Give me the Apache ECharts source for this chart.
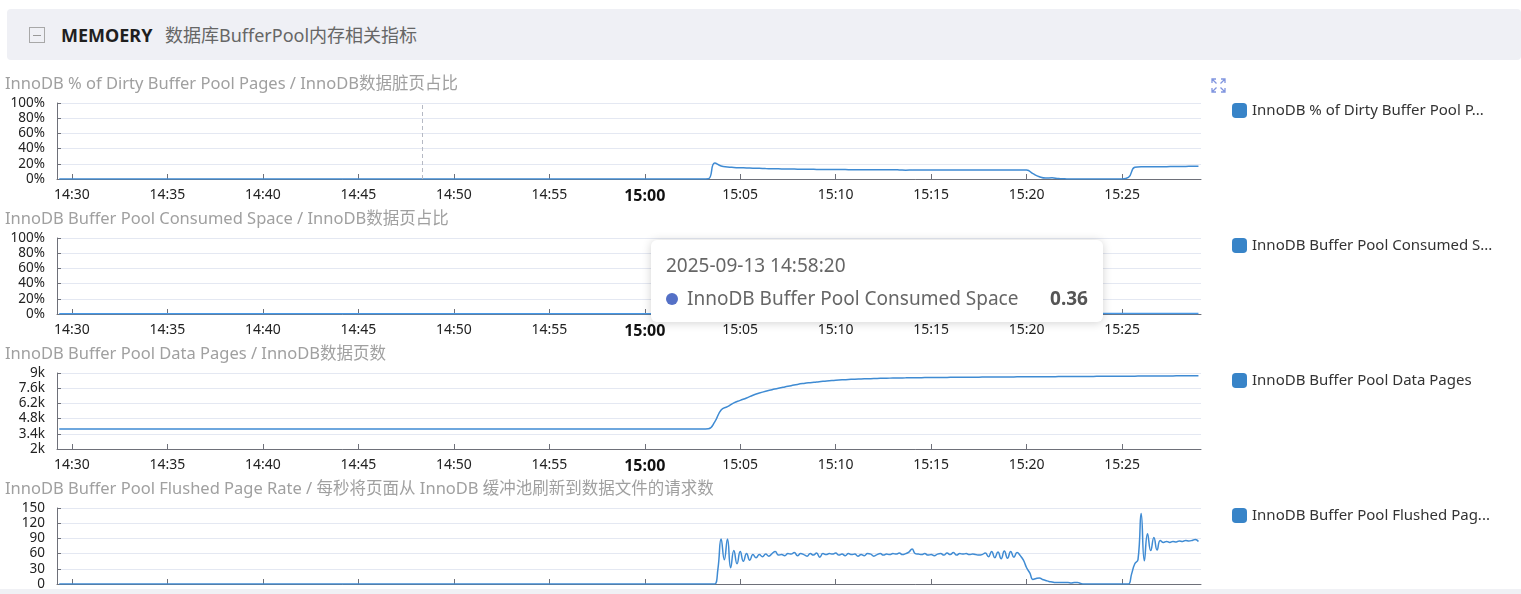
<!DOCTYPE html>
<html>

<head>
    <meta charset="UTF-8">
    <title>MEMOERY 数据库BufferPool内存相关指标</title>
    <script type="text/javascript" src="https://cdn.jsdelivr.net/npm/echarts@6.0.0/dist/echarts.min.js"></script>
    <style type="text/css">
        html, body {
            margin: 0;
            padding: 0;
            width: 1521px;
            height: 594px;
            overflow: hidden;
            background: #fff;
            font-family: "Noto Sans", "Noto Sans CJK SC", sans-serif;
        }
        .x-head {
            position: absolute;
            left: 7px;
            top: 9px;
            width: 1514px;
            height: 51px;
            background: #eff0f5;
            border-radius: 4px;
        }
        .x-fold {
            position: absolute;
            left: 22px;
            top: 18px;
            width: 16px;
            height: 16px;
            border: 1px solid #a8a8a8;
            box-sizing: border-box;
        }
        .x-fold i {
            position: absolute;
            left: 3px;
            top: 7px;
            width: 8px;
            height: 1px;
            background: #999;
        }
        .x-name {
            position: absolute;
            left: 54px;
            top: 13px;
            line-height: 26px;
            font-size: 18px;
            font-weight: bold;
            color: #1f1f1f;
        }
        .x-desc {
            position: absolute;
            left: 158px;
            top: 13px;
            line-height: 26px;
            font-size: 18px;
            color: #666;
        }
        .chart {
            position: absolute;
            left: 0;
            width: 1521px;
            height: 135px;
        }
        .x-foot {
            position: absolute;
            left: 0;
            top: 589px;
            width: 1521px;
            height: 5px;
            background: #f0f1f5;
            z-index: 10;
        }
        #expand {
            position: absolute;
            left: 1211px;
            top: 78px;
            z-index: 5;
        }
    </style>
</head>

<body>
    <div class="x-head">
        <div class="x-fold"><i></i></div>
        <span class="x-name">MEMOERY</span>
        <span class="x-desc">数据库BufferPool内存相关指标</span>
    </div>

    <div id="echarts_dirty" class="chart" style="top:70px;"></div>
    <div id="echarts_consumed" class="chart" style="top:205px;"></div>
    <div id="echarts_pages" class="chart" style="top:340px;"></div>
    <div id="echarts_flushed" class="chart" style="top:475px;"></div>

    <svg id="expand" width="15" height="15" viewBox="0 0 15 15">
        <g fill="none" stroke="#8095df" stroke-width="1.3">
            <path d="M1 5V1H5M1 1L5.5 5.5" />
            <path d="M10 1H14V5M14 1L9.5 5.5" />
            <path d="M1 10V14H5M1 14L5.5 9.5" />
            <path d="M14 10V14H10M14 14L9.5 9.5" />
        </g>
    </svg>

    <div class="x-foot"></div>

    <script>
    // 时间轴: 2025-09-13 14:29:20 起, 前三个图20秒一个点, 刷新速率10秒一个点
    var startTime = new Date(2025, 8, 13, 14, 29, 20).getTime()
    var axisMin = new Date(2025, 8, 13, 14, 29, 13).getTime()
    var axisMax = new Date(2025, 8, 13, 15, 29, 8).getTime()
    var markTime = new Date(2025, 8, 13, 14, 48, 20).getTime()
    var tipIndex = 87

    // x轴刻度
    var tickLabels = ['14:30', '14:35', '14:40', '14:45', '14:50', '14:55',
        '15:00', '15:05', '15:10', '15:15', '15:20', '15:25']

    // InnoDB % of Dirty Buffer Pool Pages (20s)
    var dirtyPct = [
        0,0,0,0,0,0,0,0,0,0,0,0,0,0,0,0,0,0,0,0,
        0,0,0,0,0,0,0,0,0,0,0,0,0,0,0,0,0,0,0,0,
        0,0,0,0,0,0,0,0,0,0,0,0,0,0,0,0,0,0,0,0,
        0,0,0,0,0,0,0,0,0,0,0,0,0,0,0,0,0,0,0,0,
        0,0,0,0,0,0,0,0,0,0,0,0,0,0,0,0,0,0,0,0,
        0,0,
        0.3,21,17,15.8,15.2,14.8,14.5,14.2,14,13.7,
        13.5,13.4,13.2,13.1,12.9,12.8,12.8,12.6,12.5,12.5,
        12.4,12.4,12.3,12.3,12.2,12.3,12.2,12.1,12.1,12.2,
        12,11.6,11.8,12,12,11.9,12,11.9,11.9,12,
        11.9,12,11.9,11.9,12,11.9,11.9,12,11.9,11.9,
        11.8,7,3,1.2,1.5,0.6,0.2,0,0,0,
        0,0,0,0,0,0,2,15.5,16.2,16,
        16.1,16.2,16.2,16.4,16.5,16.6,16.7,16.8
    ]

    // InnoDB Buffer Pool Consumed Space (20s)
    var consumedPct = [
        0.36,0.36,0.36,0.36,0.36,0.36,0.36,0.36,0.36,0.36,0.36,0.36,0.36,0.36,0.36,0.36,0.36,0.36,0.36,0.36,
        0.36,0.36,0.36,0.36,0.36,0.36,0.36,0.36,0.36,0.36,0.36,0.36,0.36,0.36,0.36,0.36,0.36,0.36,0.36,0.36,
        0.36,0.36,0.36,0.36,0.36,0.36,0.36,0.36,0.36,0.36,0.36,0.36,0.36,0.36,0.36,0.36,0.36,0.36,0.36,0.36,
        0.36,0.36,0.36,0.36,0.36,0.36,0.36,0.36,0.36,0.36,0.36,0.36,0.36,0.36,0.36,0.36,0.36,0.36,0.36,0.36,
        0.36,0.36,0.36,0.36,0.36,0.36,0.36,0.36,0.36,0.36,0.36,0.36,0.36,0.36,0.36,0.36,0.36,0.36,0.36,0.36,
        0.36,0.36,0.36,
        0.42,0.52,0.55,0.58,0.61,0.63,0.65,0.67,0.68,0.7,
        0.71,0.72,0.73,0.75,0.75,0.76,0.76,0.77,0.78,0.78,
        0.78,0.79,0.79,0.79,0.79,0.8,0.8,0.8,0.8,0.8,
        0.8,0.8,0.8,0.8,0.8,0.8,0.81,0.81,0.81,0.81,
        0.81,0.81,0.81,0.81,0.81,0.81,0.81,0.81,0.81,0.81,
        0.81,0.81,0.81,0.81,0.81,0.81,0.81,0.81,0.81,0.81,
        0.82,0.82,0.82,0.82,0.82,0.82,0.82,0.82,0.82,0.82,
        0.82,0.82,0.82,0.82,0.82,0.82,0.82
    ]

    // InnoDB Buffer Pool Data Pages (20s)
    var dataPages = [
        3850,3850,3850,3850,3850,3850,3850,3850,3850,3850,3850,3850,3850,3850,3850,3850,3850,3850,3850,3850,
        3850,3850,3850,3850,3850,3850,3850,3850,3850,3850,3850,3850,3850,3850,3850,3850,3850,3850,3850,3850,
        3850,3850,3850,3850,3850,3850,3850,3850,3850,3850,3850,3850,3850,3850,3850,3850,3850,3850,3850,3850,
        3850,3850,3850,3850,3850,3850,3850,3850,3850,3850,3850,3850,3850,3850,3850,3850,3850,3850,3850,3850,
        3850,3850,3850,3850,3850,3850,3850,3850,3850,3850,3850,3850,3850,3850,3850,3850,3850,3850,3850,3850,
        3850,3850,
        3870,4500,5600,5900,6250,6480,6700,6950,7150,7320,
        7460,7600,7720,7830,7950,8040,8110,8170,8230,8280,
        8330,8370,8400,8430,8450,8470,8490,8505,8520,8535,
        8545,8552,8560,8568,8575,8580,8586,8592,8598,8603,
        8608,8612,8617,8622,8625,8630,8634,8637,8642,8646,
        8650,8654,8657,8661,8664,8668,8672,8675,8679,8682,
        8686,8690,8693,8697,8700,8704,8708,8712,8716,8720,
        8724,8728,8731,8735,8740,8744,8748,8752
    ]

    // InnoDB Buffer Pool Flushed Page Rate (10s)
    var flushedRate = [
        0,0,0,0,0,0,0,0,0,0,0,0,0,0,0,0,0,0,0,0,
        0,0,0,0,0,0,0,0,0,0,0,0,0,0,0,0,0,0,0,0,
        0,0,0,0,0,0,0,0,0,0,0,0,0,0,0,0,0,0,0,0,
        0,0,0,0,0,0,0,0,0,0,0,0,0,0,0,0,0,0,0,0,
        0,0,0,0,0,0,0,0,0,0,0,0,0,0,0,0,0,0,0,0,
        0,0,0,0,0,0,0,0,0,0,0,0,0,0,0,0,0,0,0,0,
        0,0,0,0,0,0,0,0,0,0,0,0,0,0,0,0,0,0,0,0,
        0,0,0,0,0,0,0,0,0,0,0,0,0,0,0,0,0,0,0,0,
        0,0,0,0,0,0,0,0,0,0,0,0,0,0,0,0,0,0,0,0,
        0,0,0,0,0,0,0,0,0,0,0,0,0,0,0,0,0,0,0,0,
        0,0,0,0,0,0,0,
        30,89,48,89,32,66,40,64,45,60,
        47,58,52,58,54,59,55,60,64,57,
        58,56,60,59,62,56,60,58,55,
        60,57,61,53,60,58,60,59,61,57,
        59,56,60,58,59,55,58,56,60,59,
        55,58,60,57,59,58,60,59,61,58,
        60,63,69,60,59,58,60,57,58,56,
        59,60,57,61,58,62,57,60,59,60,
        58,59,58,57,58,61,54,64,52,63,
        50,65,51,64,53,62,56,47,32,22,
        9,11,12,9,7,5,4,3,3,3,
        3,3,2,3,3,1,0,0,0,0,
        0,0,0,0,0,0,0,0,0,0,
        0,20,40,48,139,46,99,66,92,67,
        86,82,84,82,84,83,85,84,86,85,
        86,88,84
    ]

    var titles = [
        'InnoDB % of Dirty Buffer Pool Pages / InnoDB数据脏页占比',
        'InnoDB Buffer Pool Consumed Space / InnoDB数据页占比',
        'InnoDB Buffer Pool Data Pages / InnoDB数据页数',
        'InnoDB Buffer Pool Flushed Page Rate / 每秒将页面从 InnoDB 缓冲池刷新到数据文件的请求数'
    ]
    var seriesNames = [
        'InnoDB % of Dirty Buffer Pool Pages',
        'InnoDB Buffer Pool Consumed Space',
        'InnoDB Buffer Pool Data Pages',
        'InnoDB Buffer Pool Flushed Page Rate'
    ]

    var FONT = '"Noto Sans", "Noto Sans CJK SC", sans-serif'
    var LINE = '#3f8bd3'

    var tickTimes = tickLabels.map(function (s) {
        var hm = s.split(':')
        return new Date(2025, 8, 13, +hm[0], +hm[1], 0).getTime()
    })

    function toPairs(values, step) {
        var arr = []
        for (var i = 0; i < values.length; i++) {
            arr.push([startTime + i * step * 1000, values[i]])
        }
        return arr
    }

    function pct(v) {
        return v + '%'
    }
    function kilo(v) {
        return (v / 1000) + 'k'
    }
    function hhmm(v) {
        var s = echarts.time.format(v, '{HH}:{mm}', false)
        // 整点加粗
        return new Date(v).getMinutes() === 0 ? '{primary|' + s + '}' : s
    }

    function buildOption(idx, data, yMin, yMax, yInterval, yFormatter) {
        return {
            animation: false,
            textStyle: { fontFamily: FONT },
            title: {
                text: titles[idx],
                left: 0,
                top: 1,
                textStyle: { fontSize: 16.5, fontWeight: 'normal', color: '#a0a0a0', fontFamily: FONT }
            },
            grid: { left: 57, right: 320, top: 33, height: 76 },
            legend: {
                left: 1227,
                top: 28,
                orient: 'vertical',
                icon: 'roundRect',
                itemWidth: 15,
                itemHeight: 15,
                itemGap: 6,
                selectedMode: false,
                itemStyle: { color: '#3884c8' },
                textStyle: { fontSize: 15, color: '#333', width: 243, overflow: 'truncate', ellipsis: '...', fontFamily: FONT },
                data: [seriesNames[idx]]
            },
            // 用数值轴承载时间戳, 刻度固定在整5分钟
            xAxis: {
                type: 'value',
                min: axisMin,
                max: axisMax,
                axisLine: { lineStyle: { color: '#6e7079', width: 1 } },
                axisTick: { show: true, inside: true, length: 5, lineStyle: { color: '#6e7079' }, customValues: tickTimes },
                axisLabel: {
                    customValues: tickTimes,
                    formatter: hhmm,
                    fontSize: 14,
                    color: '#222',
                    margin: 9,
                    rich: { primary: { fontWeight: 'bold', fontSize: 16, color: '#111' } }
                },
                splitLine: { show: false }
            },
            yAxis: {
                type: 'value',
                min: yMin,
                max: yMax,
                interval: yInterval,
                axisLine: { show: true, lineStyle: { color: '#6e7079' } },
                axisTick: { show: true, inside: true, length: 4 },
                axisLabel: { formatter: yFormatter, fontSize: 13.5, color: '#222', margin: 12 },
                splitLine: { lineStyle: { color: '#e4e8f2' } }
            },
            series: [{
                name: seriesNames[idx],
                type: 'line',
                smooth: true,
                showSymbol: false,
                symbol: 'none',
                data: data,
                lineStyle: { width: 1.5, color: LINE },
                itemStyle: { color: LINE }
            }]
        }
    }

    var myChart1 = echarts.init(document.getElementById('echarts_dirty'))
    var myChart2 = echarts.init(document.getElementById('echarts_consumed'))
    var myChart3 = echarts.init(document.getElementById('echarts_pages'))
    var myChart4 = echarts.init(document.getElementById('echarts_flushed'))

    var option1 = buildOption(0, toPairs(dirtyPct, 20), 0, 100, 20, pct)
    // 上一次悬停留下的虚线
    option1.series[0].markLine = {
        silent: true,
        symbol: 'none',
        label: { show: false },
        lineStyle: { color: '#b5b9c4', type: [4, 3], width: 1 },
        data: [{ xAxis: markTime }]
    }

    var option2 = buildOption(1, toPairs(consumedPct, 20), 0, 100, 20, pct)
    option2.tooltip = {
        trigger: 'axis',
        triggerOn: 'none',
        alwaysShowContent: true,
        transitionDuration: 0,
        axisPointer: { type: 'none' },
        position: [651, 35],
        backgroundColor: '#fff',
        borderWidth: 0,
        padding: [12, 15, 11, 15],
        extraCssText: 'box-shadow:0 1px 10px rgba(0,0,0,0.18);border-radius:6px;width:422px;',
        formatter: function (params) {
            var p = params[0]
            var f = FONT.replace(/"/g, '\'')
            var t = echarts.time.format(p.value[0], '{yyyy}-{MM}-{dd} {HH}:{mm}:{ss}', false)
            return '<div style="font-size:19px;line-height:26px;color:#666;font-family:' + f + '">' + t + '</div>' +
                '<div style="margin-top:7px;font-size:19px;line-height:26px;color:#666;font-family:' + f + '">' +
                '<span style="display:inline-block;width:12px;height:12px;border-radius:6px;background:#5470c6;margin-right:9px;vertical-align:0px;"></span>' +
                p.seriesName +
                '<span style="float:right;font-weight:bold;color:#555;">' + p.value[1] + '</span></div>'
        }
    }

    var option3 = buildOption(2, toPairs(dataPages, 20), 2000, 9000, 1400, kilo)
    var option4 = buildOption(3, toPairs(flushedRate, 10), 0, 150, 30, null)

    myChart1.setOption(option1)
    myChart2.setOption(option2)
    myChart3.setOption(option3)
    myChart4.setOption(option4)

    myChart2.dispatchAction({ type: 'showTip', seriesIndex: 0, dataIndex: tipIndex })
    </script>
</body>

</html>
